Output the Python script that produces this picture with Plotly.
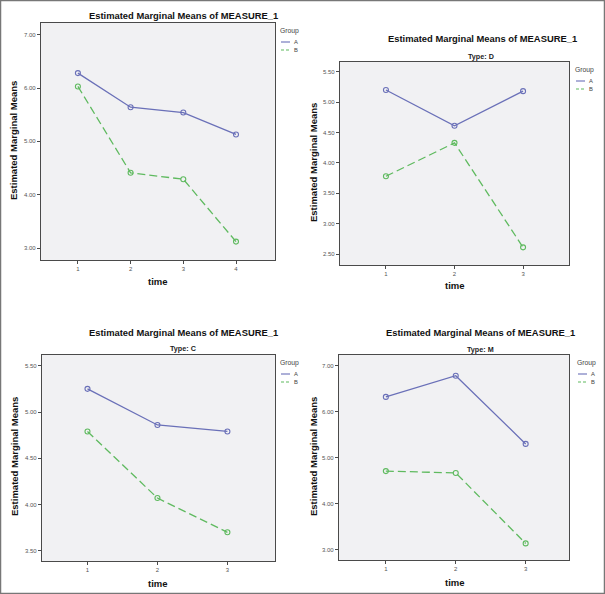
import plotly.graph_objects as go

W, H = 605, 594

# ---- data ----
time_p1 = [1, 2, 3, 4]
a_p1 = [6.28, 5.64, 5.54, 5.13]
b_p1 = [6.03, 4.41, 4.29, 3.12]

time_p2 = [1, 2, 3]
a_p2 = [5.20, 4.61, 5.18]
b_p2 = [3.78, 4.33, 2.61]

time_p3 = [1, 2, 3]
a_p3 = [5.25, 4.86, 4.79]
b_p3 = [4.79, 4.07, 3.70]

time_p4 = [1, 2, 3]
a_p4 = [6.32, 6.78, 5.30]
b_p4 = [4.71, 4.67, 3.14]

groups = ["A", "B"]
subtitles = [None, "Type: D", "Type: C", "Type: M"]
main_title = "Estimated Marginal Means of MEASURE_1"
y_title = "Estimated Marginal Means"
x_title = "time"

col_a = "#6a70b8"
col_b = "#5fba5f"
bg = "#f1f1f3"
frame = "#4a4a4a"
FONT = "Liberation Sans, Arial, sans-serif"

def fx(px):
    return px / W

def fy(py):
    return 1 - py / H

# panel layout in pixels: plot box (x0,x1,y0,y1), axis ranges, ticks, text positions
panels = [
    dict(t=time_p1, a=a_p1, b=b_p1, box=(41, 275, 23, 260), xr=(0.30, 4.74), yr=(2.775, 7.22),
         yt=[3, 4, 5, 6, 7], title=(183, 15), sub=None, ytl=(14, 141), xtl=(158, 282),
         leg=(278, 31)),
    dict(t=time_p2, a=a_p2, b=b_p2, box=(340, 569, 62, 265), xr=(0.33, 3.67), yr=(2.32, 5.66),
         yt=[2.5, 3, 3.5, 4, 4.5, 5, 5.5], title=(482, 39), sub=(481, 56), ytl=(313, 163), xtl=(455, 285),
         leg=(573, 70)),
    dict(t=time_p3, a=a_p3, b=b_p3, box=(42, 275, 355, 561), xr=(0.35, 3.68), yr=(3.39, 5.616),
         yt=[3.5, 4, 4.5, 5, 5.5], title=(183, 332), sub=(183, 348), ytl=(14, 457), xtl=(158, 583),
         leg=(278, 363)),
    dict(t=time_p4, a=a_p4, b=b_p4, box=(339, 569, 355, 560), xr=(0.33, 3.62), yr=(2.78, 7.23),
         yt=[3, 4, 5, 6, 7], title=(480, 332), sub=(480, 349), ytl=(313, 457), xtl=(455, 582),
         leg=(575, 363)),
]
for p, s in zip(panels, subtitles):
    p["subtxt"] = s

fig = go.Figure()
annotations = []
shapes = []

for i, p in enumerate(panels):
    k = "" if i == 0 else str(i + 1)
    xa, ya = "x" + k, "y" + k
    for name, vals, col, dash in [(groups[0], p["a"], col_a, "solid"), (groups[1], p["b"], col_b, "8px,4px")]:
        fig.add_trace(go.Scatter(
            x=p["t"], y=vals, mode="lines+markers", name=name, showlegend=False,
            xaxis=xa, yaxis=ya,
            line=dict(color=col, width=1.3, dash=dash),
            marker=dict(symbol="circle-open", size=5, color=col, line=dict(width=1.1, color=col)),
        ))
    x0, x1, y0, y1 = p["box"]
    fig.layout["xaxis" + k] = dict(
        domain=[fx(x0), fx(x1)], range=list(p["xr"]), anchor=ya,
        tickvals=p["t"], ticktext=[str(v) for v in p["t"]],
        ticks="outside", ticklen=3, tickcolor=frame, tickwidth=1,
        showgrid=False, zeroline=False, showline=True, linecolor=frame, linewidth=1.3, mirror=True,
        tickfont=dict(size=6, color="#555", family=FONT), fixedrange=True,
    )
    fig.layout["yaxis" + k] = dict(
        domain=[fy(y1), fy(y0)], range=list(p["yr"]), anchor=xa,
        tickvals=p["yt"], tickformat=".2f",
        ticks="outside", ticklen=3, tickcolor=frame, tickwidth=1,
        showgrid=False, zeroline=False, showline=True, linecolor=frame, linewidth=1.3, mirror=True,
        tickfont=dict(size=6, color="#555", family=FONT), fixedrange=True,
    )
    shapes.append(dict(type="rect", xref="paper", yref="paper", x0=fx(x0), x1=fx(x1), y0=fy(y1), y1=fy(y0),
                       fillcolor=bg, line=dict(width=0), layer="below"))
    # titles
    tx, ty = p["title"]
    annotations.append(dict(text="<b>" + main_title + "</b>", x=fx(tx), y=fy(ty), xref="paper", yref="paper",
                            showarrow=False, xanchor="center", yanchor="middle",
                            font=dict(size=9.4, color="#111", family=FONT)))
    if p["subtxt"]:
        sx, sy = p["sub"]
        annotations.append(dict(text="<b>" + p["subtxt"] + "</b>", x=fx(sx), y=fy(sy), xref="paper", yref="paper",
                                showarrow=False, xanchor="center", yanchor="middle",
                                font=dict(size=7.2, color="#222", family=FONT)))
    yx, yy = p["ytl"]
    annotations.append(dict(text="<b>" + y_title + "</b>", x=fx(yx), y=fy(yy), xref="paper", yref="paper",
                            showarrow=False, textangle=-90, xanchor="center", yanchor="middle",
                            font=dict(size=9.5, color="#111", family=FONT)))
    xx, xy = p["xtl"]
    annotations.append(dict(text="<b>" + x_title + "</b>", x=fx(xx), y=fy(xy), xref="paper", yref="paper",
                            showarrow=False, xanchor="center", yanchor="middle",
                            font=dict(size=9.5, color="#111", family=FONT)))
    # legend (drawn manually)
    lx, ly = p["leg"]
    annotations.append(dict(text="Group", x=fx(lx), y=fy(ly), xref="paper", yref="paper",
                            showarrow=False, xanchor="left", yanchor="middle",
                            font=dict(size=6.8, color="#444", family=FONT)))
    for j, (g, col, dash) in enumerate([(groups[0], col_a, "solid"), (groups[1], col_b, "3px,2px")]):
        yy_ = ly + 11 + 8 * j
        shapes.append(dict(type="line", xref="paper", yref="paper", x0=fx(lx + 3), x1=fx(lx + 12),
                           y0=fy(yy_), y1=fy(yy_), line=dict(color=col, width=1.1, dash=dash)))
        annotations.append(dict(text=g, x=fx(lx + 14), y=fy(yy_), xref="paper", yref="paper",
                                showarrow=False, xanchor="left", yanchor="middle",
                                font=dict(size=5.8, color="#444", family=FONT)))

# outer frame of the figure
shapes.append(dict(type="rect", xref="paper", yref="paper", x0=fx(0.5), x1=fx(604.5), y0=fy(593.5), y1=fy(0.5),
                   line=dict(color="#777", width=1.5), fillcolor="rgba(0,0,0,0)"))

fig.update_layout(
    width=W, height=H, margin=dict(l=0, r=0, t=0, b=0),
    paper_bgcolor="white", plot_bgcolor=bg,
    showlegend=False, annotations=annotations, shapes=shapes,
    font=dict(family=FONT),
)
fig.write_html("out.html", config={"displayModeBar": False},
               post_script="document.body.style.margin='0';document.body.style.padding='0';document.body.style.overflow='hidden';")
